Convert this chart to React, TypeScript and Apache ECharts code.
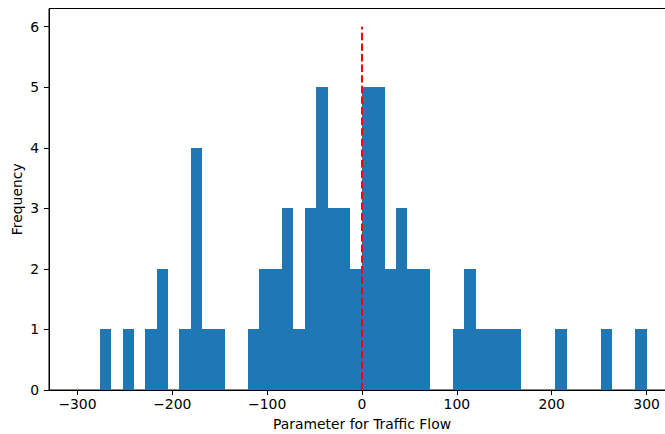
import React, { useEffect, useRef } from "react";
import * as echarts from "echarts";

// Histogram bins (48 equal-width bins)
const binStart = -276.5;
const binWidth = 12.01;
const counts = [
  1, 0, 1, 0, 1, 2, 0, 1, 4, 1,
  1, 0, 0, 1, 2, 2, 3, 1, 3, 5,
  3, 3, 2, 5, 5, 2, 3, 2, 2, 0,
  0, 1, 2, 1, 1, 1, 1, 0, 0, 0,
  1, 0, 0, 0, 1, 0, 0, 1,
];
const xTicks = [-300, -200, -100, 0, 100, 200, 300];
const yTicks = [0, 1, 2, 3, 4, 5, 6];
const refLine = [
  [0, 0],
  [0, 6],
];

const FONT = "DejaVu Sans";

export default function App() {
  const ref = useRef<HTMLDivElement>(null);
  useEffect(() => {
    if (!ref.current) return;
    const chart = echarts.init(ref.current, undefined, { renderer: "svg" });
    const binData = counts.map((c, i) => [
      binStart + i * binWidth,
      binStart + (i + 1) * binWidth,
      c,
    ]);
    const fmt = (v: number) => (v < 0 ? "\u2212" + Math.abs(v) : String(v));
    chart.setOption({
      animation: false,
      backgroundColor: "#ffffff",
      grid: {
        left: 49,
        top: 8.5,
        width: 626,
        height: 381.5,
        containLabel: false,
        outerBoundsMode: "none",
        show: true,
        borderColor: "#000",
        borderWidth: 1,
        backgroundColor: "transparent",
      },
      xAxis: {
        type: "value",
        min: -330,
        max: 330,
        name: "Parameter for Traffic Flow",
        nameLocation: "middle",
        nameGap: 27,
        nameMoveOverlap: false,
        nameTextStyle: { fontFamily: FONT, fontSize: 13.9, color: "#000" },
        axisLine: { show: true, onZero: false, lineStyle: { color: "#000", width: 1 } },
        axisTick: {
          show: true,
          length: 5,
          inside: false,
          customValues: xTicks,
          lineStyle: { color: "#000", width: 1 },
        },
        axisLabel: {
          show: true,
          customValues: xTicks,
          formatter: fmt,
          margin: 7,
          fontFamily: FONT,
          fontSize: 13.9,
          color: "#000",
        },
        splitLine: { show: false },
      },
      yAxis: {
        type: "value",
        min: 0,
        max: 6.3,
        name: "Frequency",
        nameLocation: "middle",
        nameGap: 25,
        nameMoveOverlap: false,
        nameTextStyle: { fontFamily: FONT, fontSize: 13.9, color: "#000" },
        axisLine: { show: true, onZero: false, lineStyle: { color: "#000", width: 1 } },
        axisTick: {
          show: true,
          length: 5,
          inside: false,
          customValues: yTicks,
          lineStyle: { color: "#000", width: 1 },
        },
        axisLabel: {
          show: true,
          customValues: yTicks,
          margin: 10,
          fontFamily: FONT,
          fontSize: 13.9,
          color: "#000",
        },
        splitLine: { show: false },
      },
      series: [
        {
          type: "custom",
          data: binData,
          encode: { x: [0, 1], y: 2 },
          renderItem: (params: any, api: any) => {
            const x0 = api.value(0);
            const x1 = api.value(1);
            const c = api.value(2);
            if (!c) return null;
            const p0 = api.coord([x0, c]);
            const p1 = api.coord([x1, 0]);
            const l = Math.round(p0[0]);
            const r = Math.round(p1[0]);
            const t = Math.round(p0[1]);
            const b = Math.round(p1[1]);
            return {
              type: "rect",
              shape: { x: l, y: t, width: r - l, height: b - t },
              style: { fill: "#1f77b4", stroke: null },
            };
          },
          z: 2,
        },
        {
          type: "line",
          data: refLine,
          symbol: "none",
          lineStyle: { color: "#ff0000", width: 2, type: [7.4, 3.2] },
          z: 3,
        },
      ],
    });
    return () => chart.dispose();
  }, []);
  return (
    <div
      style={{
        position: "fixed",
        left: 0,
        top: 0,
        width: 665,
        height: 434,
        overflow: "hidden",
        background: "#fff",
      }}
    >
      <div ref={ref} style={{ width: 690, height: 434 }} />
    </div>
  );
}
